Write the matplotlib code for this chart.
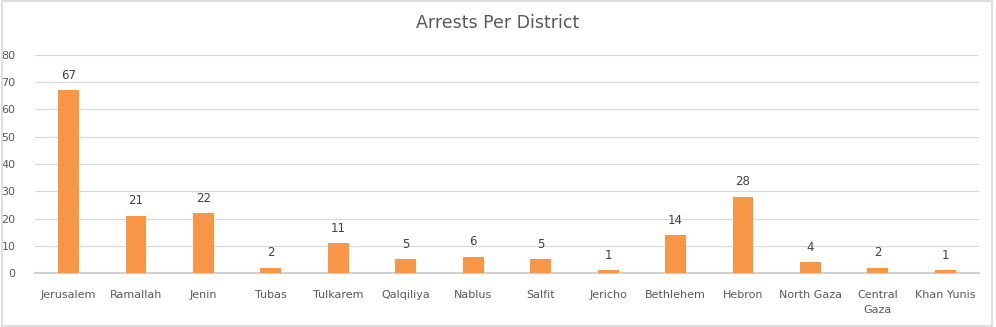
import matplotlib
matplotlib.use('Agg')
import matplotlib.pyplot as plt
from matplotlib.patches import Rectangle

districts = ['Jerusalem', 'Ramallah', 'Jenin', 'Tubas', 'Tulkarem', 'Qalqiliya', 'Nablus',
             'Salfit', 'Jericho', 'Bethlehem', 'Hebron', 'North Gaza', 'Central\nGaza', 'Khan Yunis']
arrests = [67, 21, 22, 2, 11, 5, 6, 5, 1, 14, 28, 4, 2, 1]
y_ticks = [0, 10, 20, 30, 40, 50, 60, 70, 80]

text_color = '#595959'
bar_color = '#F79646'

fig = plt.figure(figsize=(9.96, 3.27), dpi=100)
fig.patches.append(Rectangle((0.002, 0.003), 0.994, 0.994, transform=fig.transFigure,
                             fill=False, edgecolor='#D9D9D9', linewidth=1.2))
ax = fig.add_axes([0.035, 0.165, 0.948, 0.667])

x = range(len(districts))
bars = ax.bar(x, arrests, width=0.31, color=bar_color, zorder=3)
for rect, v in zip(bars, arrests):
    ax.annotate(str(v), (rect.get_x() + rect.get_width() / 2, v), xytext=(0, 6),
                textcoords='offset points', ha='center', va='bottom',
                fontsize=8.5, color='#404040')

ax.set_xlim(-0.5, len(districts) - 0.5)
ax.set_ylim(0, 80)
ax.set_yticks(y_ticks)
ax.set_xticks(list(x))
ax.set_xticklabels(districts, fontsize=8, color=text_color, linespacing=1.6)
ax.tick_params(axis='y', labelsize=8, colors=text_color, length=0, pad=14)
ax.tick_params(axis='x', length=0, pad=12)
ax.grid(axis='y', color='#D9D9D9', linewidth=0.9, zorder=0)
for side in ['top', 'right', 'left']:
    ax.spines[side].set_visible(False)
ax.spines['bottom'].set_color('#D0D0D0')
ax.spines['bottom'].set_linewidth(1.5)

fig.text(0.5, 0.93, 'Arrests Per District', ha='center', va='center',
         fontsize=12.5, color=text_color)

fig.savefig('out.png', dpi=100)
